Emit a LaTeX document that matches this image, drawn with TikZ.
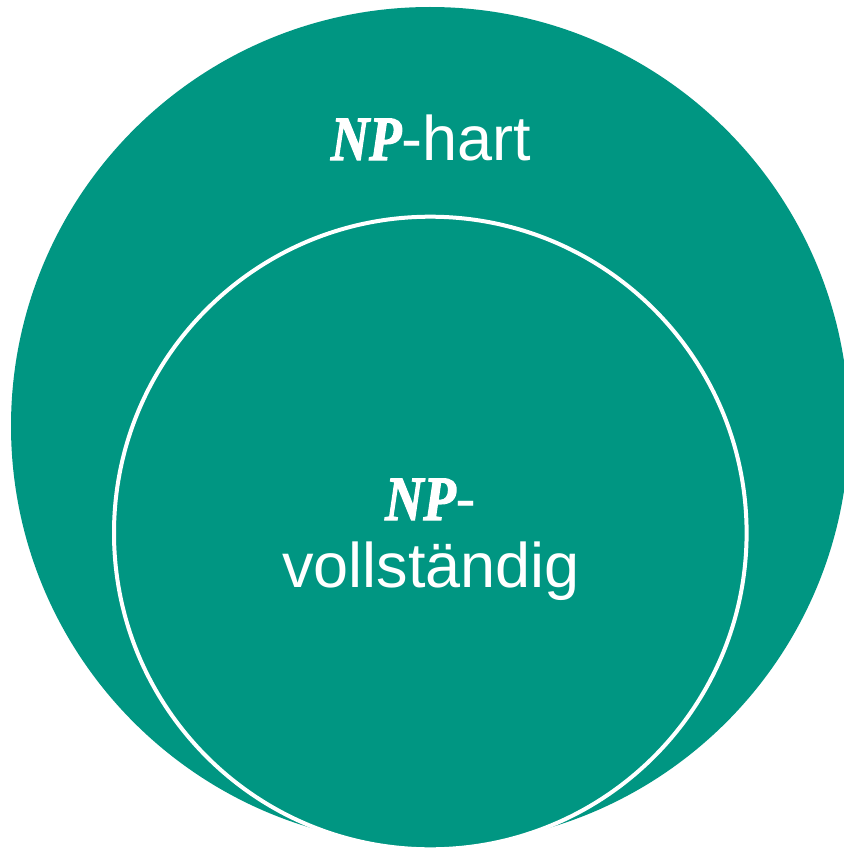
\documentclass[tikz,border=0pt]{standalone}
\usepackage{fontspec}
\setmainfont{Liberation Sans}
\newfontfamily\npserif{Liberation Serif}
\newcommand\npmark{\scalebox{0.84}[1]{\special{pdf:literal direct 1 1 1 RG 2 Tr 1.4 w}\npserif\bfseries\itshape NP\special{pdf:literal direct 0 Tr}}}
\definecolor{kitgreen}{RGB}{0,150,130}
\begin{document}
\begin{tikzpicture}[x=1pt,y=-1pt,
  setcircle/.style={circle, fill=kitgreen, inner sep=0pt},
  lab/.style={text=white, anchor=base, inner sep=0pt, font=\fontsize{63}{67}\selectfont}]
\useasboundingbox (0,0) rectangle (843,848);
\node[setcircle, minimum size=838pt] (hard) at (430,426) {};
\node[setcircle, draw=white, line width=4pt, minimum size=632.6pt] (complete) at (430.3,533) {};
\node[lab] (hardlabel) at (431,160) {\npmark-hart};
\node[lab] (completelabel1) at (431,520) {\npmark-};
\node[lab] (completelabel2) at (431,587) {vollständig};
\end{tikzpicture}
\end{document}
